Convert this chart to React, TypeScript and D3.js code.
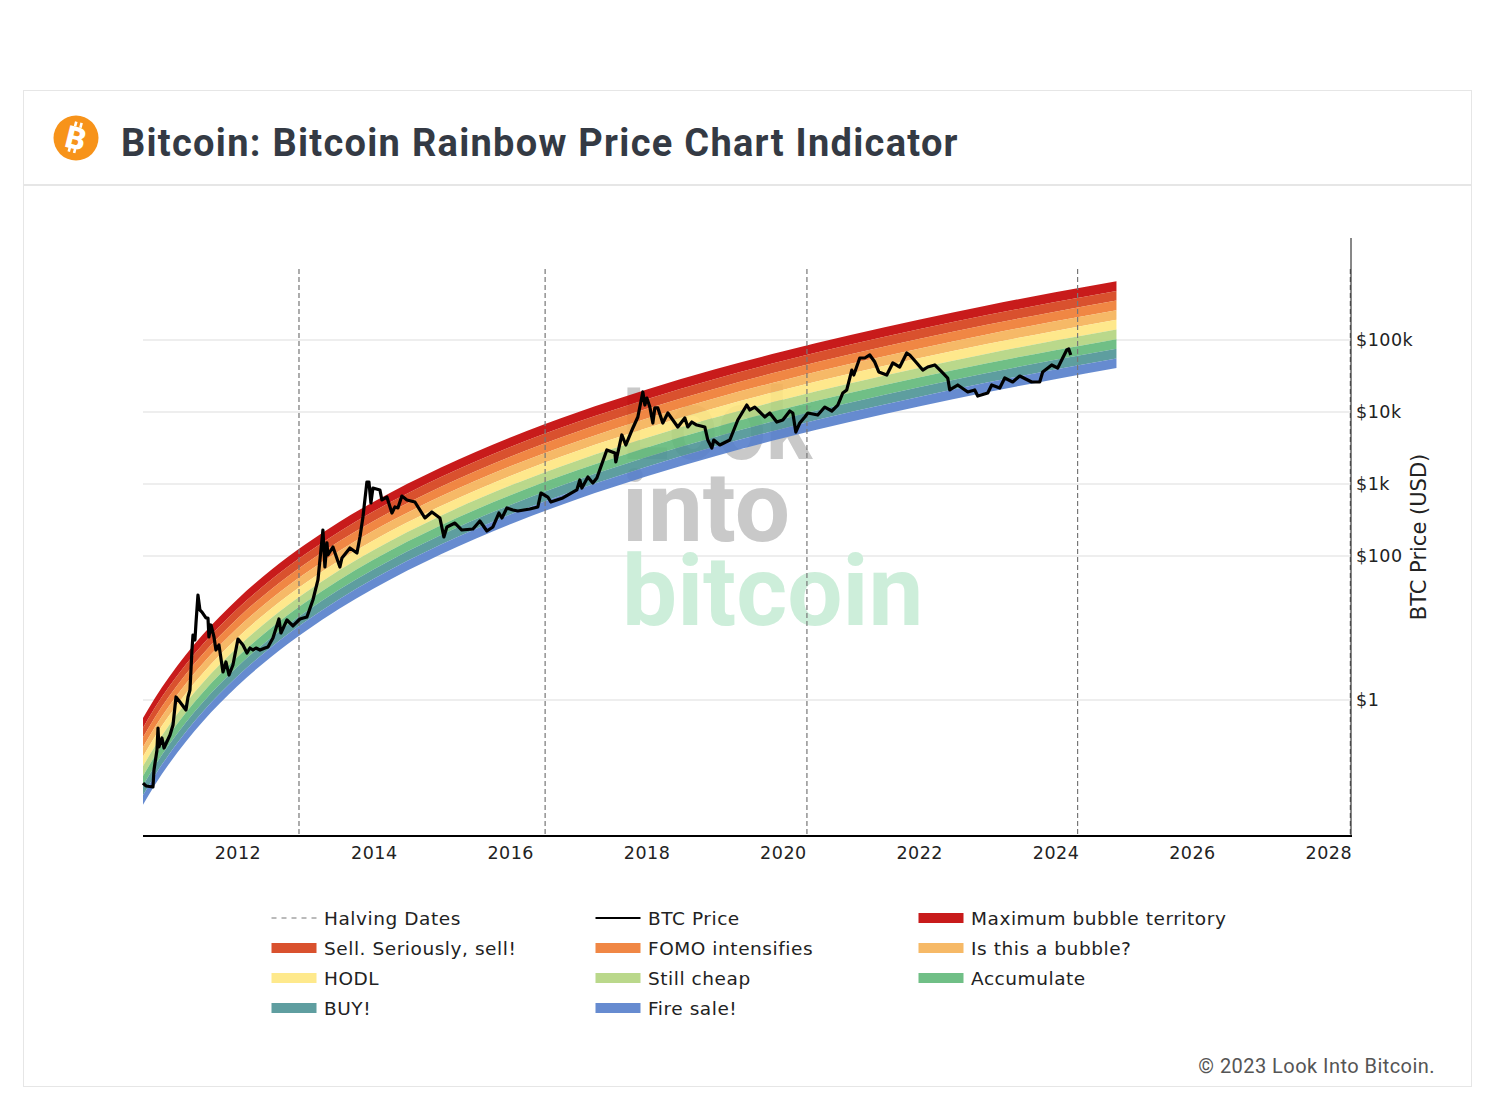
import React from "react";
import * as d3 from "d3";

const bandYears = [2010.622, 2010.8, 2011, 2011.25, 2011.5, 2012, 2012.5, 2013, 2013.5, 2014, 2015, 2016, 2017, 2018, 2019, 2020, 2021, 2022, 2023, 2024, 2024.9];
// log10(USD) of the band edges
const edgeTop = [-0.25, 0.032, 0.313, 0.627, 0.908, 1.394, 1.804, 2.158, 2.472, 2.751, 3.234, 3.644, 3.997, 4.309, 4.589, 4.841, 5.071, 5.282, 5.48, 5.662, 5.816];
const edge1 = [-0.384, -0.102, 0.179, 0.493, 0.774, 1.26, 1.67, 2.024, 2.338, 2.617, 3.1, 3.51, 3.863, 4.175, 4.455, 4.707, 4.937, 5.148, 5.346, 5.528, 5.682];
const edge2 = [-0.518, -0.236, 0.045, 0.359, 0.64, 1.126, 1.536, 1.89, 2.204, 2.483, 2.966, 3.376, 3.729, 4.041, 4.321, 4.573, 4.803, 5.014, 5.212, 5.394, 5.548];
const edge3 = [-0.652, -0.37, -0.089, 0.225, 0.506, 0.992, 1.402, 1.756, 2.07, 2.349, 2.832, 3.242, 3.595, 3.907, 4.187, 4.439, 4.669, 4.88, 5.078, 5.26, 5.414];
const edge4 = [-0.786, -0.504, -0.223, 0.091, 0.372, 0.858, 1.268, 1.622, 1.936, 2.215, 2.698, 3.108, 3.461, 3.773, 4.053, 4.305, 4.535, 4.746, 4.944, 5.126, 5.28];
const edge5 = [-0.92, -0.638, -0.357, -0.043, 0.238, 0.724, 1.134, 1.488, 1.802, 2.081, 2.564, 2.974, 3.327, 3.639, 3.919, 4.171, 4.401, 4.612, 4.81, 4.992, 5.146];
const edge6 = [-1.054, -0.772, -0.491, -0.177, 0.104, 0.59, 1.0, 1.354, 1.668, 1.947, 2.43, 2.84, 3.193, 3.505, 3.785, 4.037, 4.267, 4.478, 4.676, 4.858, 5.012];
const edge7 = [-1.188, -0.906, -0.625, -0.311, -0.03, 0.456, 0.866, 1.22, 1.534, 1.813, 2.296, 2.706, 3.059, 3.371, 3.651, 3.903, 4.133, 4.344, 4.542, 4.724, 4.878];
const edge8 = [-1.322, -1.04, -0.759, -0.445, -0.164, 0.322, 0.732, 1.086, 1.4, 1.679, 2.162, 2.572, 2.925, 3.237, 3.517, 3.769, 3.999, 4.21, 4.408, 4.59, 4.744];
const edge9 = [-1.456, -1.174, -0.893, -0.579, -0.298, 0.188, 0.598, 0.952, 1.266, 1.545, 2.028, 2.438, 2.791, 3.103, 3.383, 3.635, 3.865, 4.076, 4.274, 4.456, 4.61];
const bandEdges = [edgeTop, edge1, edge2, edge3, edge4, edge5, edge6, edge7, edge8, edge9];

const bandNames = ["Maximum bubble territory", "Sell. Seriously, sell!", "FOMO intensifies", "Is this a bubble?", "HODL", "Still cheap", "Accumulate", "BUY!", "Fire sale!"];
const legendColors = ["#c81b1b", "#d9512e", "#f08745", "#f6b967", "#fee98c", "#bad88b", "#70bf86", "#5f9ea0", "#668bd0"];
const bandFills = ["#c20202", "#d53e17", "#ee7a30", "#f5b156", "#fee67f", "#b2d47e", "#60b879", "#4d9395", "#557ecb"];
const bandOpacity = 0.9;

const priceYears = [2010.622, 2010.666, 2010.768, 2010.783, 2010.827, 2010.842, 2010.856, 2010.9, 2010.93, 2011.018, 2011.062, 2011.106, 2011.164, 2011.252, 2011.282, 2011.311, 2011.34, 2011.355, 2011.384, 2011.399, 2011.428, 2011.457, 2011.487, 2011.545, 2011.575, 2011.589, 2011.619, 2011.663, 2011.692, 2011.736, 2011.795, 2011.839, 2011.883, 2011.941, 2012.015, 2012.088, 2012.147, 2012.191, 2012.235, 2012.279, 2012.308, 2012.338, 2012.411, 2012.455, 2012.528, 2012.616, 2012.645, 2012.733, 2012.821, 2012.924, 2013.026, 2013.114, 2013.188, 2013.261, 2013.29, 2013.32, 2013.334, 2013.408, 2013.51, 2013.54, 2013.657, 2013.76, 2013.804, 2013.848, 2013.906, 2013.936, 2013.965, 2013.994, 2014.097, 2014.126, 2014.199, 2014.273, 2014.317, 2014.361, 2014.419, 2014.493, 2014.61, 2014.757, 2014.859, 2014.977, 2015.035, 2015.079, 2015.197, 2015.299, 2015.461, 2015.563, 2015.666, 2015.754, 2015.842, 2015.886, 2015.959, 2016.047, 2016.12, 2016.296, 2016.413, 2016.458, 2016.56, 2016.604, 2016.78, 2016.985, 2017.029, 2017.059, 2017.147, 2017.22, 2017.279, 2017.425, 2017.543, 2017.557, 2017.645, 2017.704, 2017.807, 2017.88, 2017.953, 2017.983, 2018.012, 2018.056, 2018.1, 2018.129, 2018.173, 2018.246, 2018.32, 2018.466, 2018.569, 2018.613, 2018.672, 2018.745, 2018.862, 2018.906, 2018.965, 2018.994, 2019.082, 2019.229, 2019.346, 2019.478, 2019.522, 2019.595, 2019.669, 2019.742, 2019.815, 2019.918, 2020.006, 2020.109, 2020.153, 2020.197, 2020.255, 2020.329, 2020.373, 2020.519, 2020.622, 2020.725, 2020.813, 2020.886, 2020.944, 2021.018, 2021.047, 2021.135, 2021.208, 2021.282, 2021.355, 2021.414, 2021.531, 2021.619, 2021.721, 2021.824, 2021.868, 2021.971, 2022.059, 2022.132, 2022.235, 2022.352, 2022.425, 2022.455, 2022.572, 2022.719, 2022.821, 2022.865, 2023.012, 2023.07, 2023.188, 2023.261, 2023.378, 2023.481, 2023.657, 2023.774, 2023.818, 2023.95, 2024.038, 2024.17, 2024.2, 2024.229];
const priceLog10 = [-1.153, -1.194, -1.208, -0.972, -0.694, -0.389, -0.653, -0.528, -0.667, -0.486, -0.347, 0.042, -0.028, -0.139, 0.042, 0.139, 0.694, 0.903, 0.833, 1.069, 1.458, 1.25, 1.222, 1.139, 1.139, 0.875, 1.042, 0.875, 0.694, 0.764, 0.389, 0.528, 0.347, 0.486, 0.847, 0.764, 0.653, 0.722, 0.694, 0.722, 0.708, 0.694, 0.722, 0.736, 0.861, 1.125, 0.931, 1.111, 1.028, 1.125, 1.153, 1.389, 1.667, 2.361, 1.847, 2.181, 2.014, 2.125, 1.847, 1.972, 2.111, 2.042, 2.264, 2.542, 3.028, 3.028, 2.736, 2.944, 2.917, 2.778, 2.819, 2.597, 2.681, 2.667, 2.833, 2.778, 2.75, 2.528, 2.611, 2.528, 2.264, 2.403, 2.458, 2.361, 2.375, 2.486, 2.347, 2.403, 2.597, 2.528, 2.667, 2.639, 2.625, 2.653, 2.681, 2.875, 2.819, 2.75, 2.806, 2.917, 3.056, 2.944, 3.097, 3.014, 3.083, 3.472, 3.431, 3.306, 3.681, 3.542, 3.778, 3.931, 4.278, 4.097, 4.194, 4.069, 3.847, 4.056, 4.056, 3.847, 3.986, 3.792, 3.917, 3.792, 3.861, 3.819, 3.792, 3.611, 3.5, 3.611, 3.542, 3.611, 3.889, 4.097, 4.028, 4.069, 4.0, 3.931, 3.986, 3.861, 3.889, 4.014, 3.986, 3.722, 3.847, 3.931, 3.986, 3.958, 4.069, 4.014, 4.097, 4.264, 4.306, 4.583, 4.514, 4.75, 4.75, 4.792, 4.694, 4.556, 4.514, 4.681, 4.625, 4.819, 4.792, 4.681, 4.583, 4.625, 4.653, 4.542, 4.472, 4.306, 4.375, 4.278, 4.306, 4.222, 4.264, 4.375, 4.333, 4.472, 4.417, 4.5, 4.417, 4.417, 4.556, 4.653, 4.611, 4.861, 4.875, 4.792];

const halvingYears = [2012.91, 2016.52, 2020.36, 2024.33, 2028.33];
const xTickYears = [2012, 2014, 2016, 2018, 2020, 2022, 2024, 2026, 2028];
const yTickValues = [1, 100, 1000, 10000, 100000];
const yTickLabels = ["$1", "$100", "$1k", "$10k", "$100k"];

const legendItems = [
  { label: "Halving Dates", kind: "dash", color: "#777777" },
  { label: "BTC Price", kind: "line", color: "#000000" },
  ...bandNames.map((label, i) => ({ label, kind: "band", color: legendColors[i] })),
];

const W = 1495;
const H = 1093;
const plot = { left: 143, right: 1351, top: 238, bottom: 836 };
const x = d3.scaleLinear().domain([2010.622, 2028.34]).range([plot.left, plot.right]);
const y = d3.scaleLog().domain([1, 100000]).range([700, 340]);
const sans = "'DejaVu Sans', sans-serif";

export default function App() {
  const bands = bandFills.map((_, i) => {
    const hi = bandEdges[i];
    const lo = bandEdges[i + 1];
    return d3
      .area<number>()
      .x((d) => x(d))
      .y0((_d, k) => y(10 ** lo[k]))
      .y1((_d, k) => y(10 ** hi[k]))
      .curve(d3.curveMonotoneX)(bandYears) as string;
  });
  const priceLine = d3
    .line<number>()
    .x((d) => x(d))
    .y((_d, k) => y(10 ** priceLog10[k]))(priceYears) as string;

  return (
    <svg width={W} height={H} style={{ position: "absolute", left: 0, top: 0, background: "#fff" }}>
      <rect x={23.5} y={90.5} width={1448} height={996} fill="#fff" stroke="#e6e6e6" />
      <line x1={23} x2={1472} y1={185} y2={185} stroke="#e6e6e6" strokeWidth={2} />
      <circle cx={76} cy={138} r={22.5} fill="#f7931a" />
      <g transform="rotate(14 76 138)" fill="#fff">
        <text x={76} y={149} textAnchor="middle" fontFamily="Roboto" fontWeight={900} fontSize={31}>B</text>
        <rect x={71} y={122} width={2.6} height={5} />
        <rect x={76.5} y={122} width={2.6} height={5} />
        <rect x={71} y={148} width={2.6} height={5} />
        <rect x={76.5} y={148} width={2.6} height={5} />
      </g>
      <text x={121} y={156} fontFamily="Roboto" fontWeight={700} fontSize={38} letterSpacing={1.28} fill="#343a44">
        Bitcoin: Bitcoin Rainbow Price Chart Indicator
      </text>

      {yTickValues.map((v) => (
        <line key={v} x1={plot.left} x2={plot.right} y1={y(v)} y2={y(v)} stroke="#e8e8e8" strokeWidth={1.5} />
      ))}

      <g fontFamily="Roboto" fontWeight={700} fontSize={98}>
        <text x={622} y={459} fontSize={100} textLength={190} lengthAdjust="spacingAndGlyphs" fill="#c9c9c9">Look</text>
        <text x={622} y={541} fill="#c9c9c9">into</text>
        <text x={622} y={625} fill="#cdeeda">bitcoin</text>
      </g>

      {bands.map((d, i) => (
        <path key={bandNames[i]} d={d} fill={bandFills[i]} fillOpacity={bandOpacity} />
      ))}

      {halvingYears.map((h) => (
        <line key={h} x1={x(h)} x2={x(h)} y1={269} y2={plot.bottom} stroke="#777" strokeWidth={1.2} strokeDasharray="5 3" />
      ))}

      <path d={priceLine} fill="none" stroke="#000" strokeWidth={3.2} strokeLinejoin="round" />

      <line x1={plot.left} x2={plot.right + 1} y1={plot.bottom} y2={plot.bottom} stroke="#000" strokeWidth={2} />
      <line x1={plot.right} x2={plot.right} y1={plot.top} y2={plot.bottom} stroke="#111" strokeWidth={1} />

      <g fontFamily={sans} fontSize={17.5} letterSpacing={0.5} fill="#222">
        {xTickYears.map((t) => (
          <text key={t} x={x(t) + 1} y={859} textAnchor="middle">{t}</text>
        ))}
        {yTickValues.map((v, i) => (
          <text key={v} x={1356} y={y(v) + 6}>{yTickLabels[i]}</text>
        ))}
      </g>
      <text transform="translate(1426 537) rotate(-90)" textAnchor="middle" fontFamily={sans} fontSize={21} fill="#222">
        BTC Price (USD)
      </text>

      <g fontFamily={sans} fontSize={18.5} letterSpacing={0.55} fill="#222">
        {legendItems.map((it, i) => {
          const lx = [271.5, 595.5, 918.5][i % 3];
          const ly = 918 + 30 * Math.floor(i / 3);
          return (
            <g key={it.label}>
              {it.kind === "band" && <rect x={lx} y={ly - 5} width={45} height={10} fill={it.color} />}
              {it.kind === "line" && <line x1={lx} x2={lx + 45} y1={ly} y2={ly} stroke={it.color} strokeWidth={2} />}
              {it.kind === "dash" && <line x1={lx} x2={lx + 45} y1={ly} y2={ly} stroke={it.color} strokeWidth={1} strokeDasharray="5 5" />}
              <text x={lx + 52.5} y={ly + 6.5}>{it.label}</text>
            </g>
          );
        })}
      </g>

      <text x={1435} y={1073} textAnchor="end" fontFamily="Roboto" fontSize={20} letterSpacing={0.45} fill="#555">
        © 2023 Look Into Bitcoin.
      </text>
    </svg>
  );
}
